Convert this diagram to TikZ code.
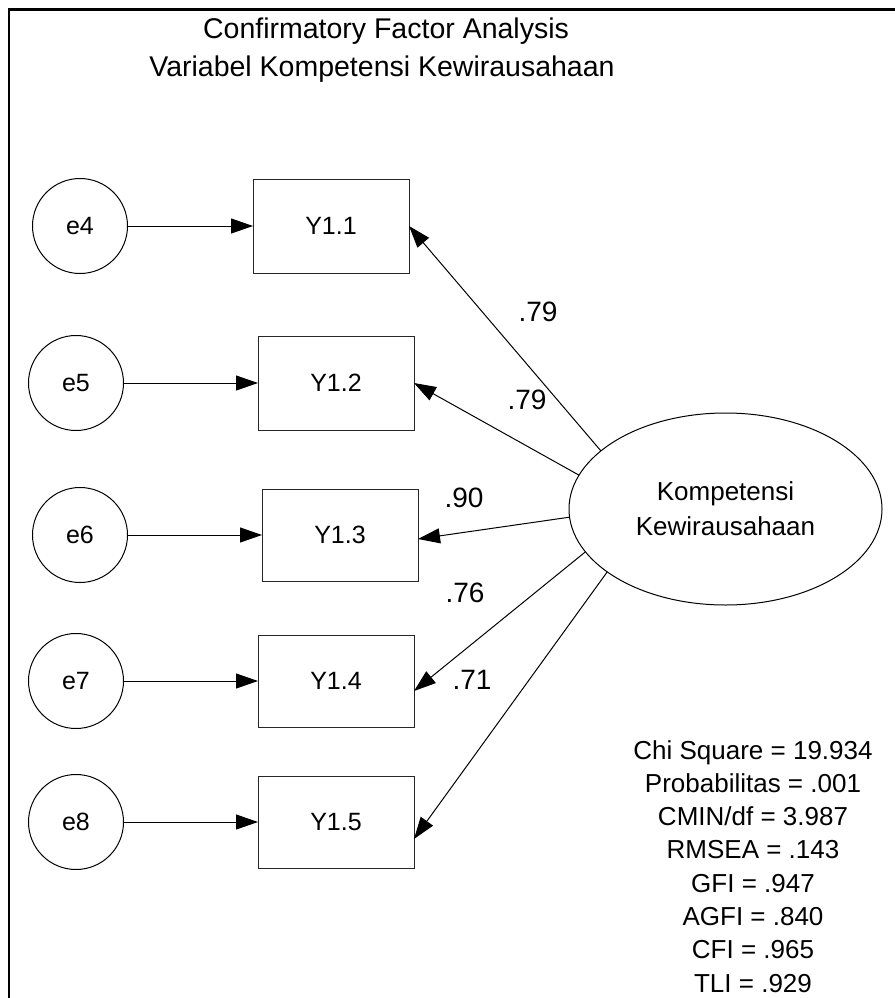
\documentclass[tikz,border=0pt]{standalone}
\usepackage{fontspec}
\setmainfont{Liberation Sans}
\usetikzlibrary{arrows.meta,shapes.geometric}
\begin{document}
\begin{tikzpicture}[x=1pt,y=-1pt,
  every node/.style={inner sep=0pt, outer sep=0pt},
  err/.style={circle, draw, line width=1pt, minimum size=95pt, font=\fontsize{25}{30}\selectfont},
  obs/.style={rectangle, draw=black!85, line width=1pt, minimum width=156pt, minimum height=94pt, font=\fontsize{25}{30}\selectfont},
  lat/.style={ellipse, draw, line width=1pt, minimum width=313pt, minimum height=192pt, align=center, font=\fontsize{26}{35}\selectfont},
  sem/.style={line width=1pt, -{Triangle[length=22pt,width=15pt]}},
  load/.style={font=\fontsize{28}{30}\selectfont},
  stat/.style={anchor=base, font=\fontsize{26}{30}\selectfont},
  ttl/.style={anchor=base, font=\fontsize{28.5}{32}\selectfont},
]
\useasboundingbox (0,0) rectangle (894,998);

% open frame (top and left edges)
\draw[line width=2.5pt, line join=miter] (9,1010) -- (9,9.5) -- (900,9.5);

% title
\node[ttl] (t1) at (386,38) {Confirmatory Factor Analysis};
\node[ttl] (t2) at (382,77) {Variabel Kompetensi Kewirausahaan};

% error terms
\node[err] (e4) at (80,226) {e4};
\node[err] (e5) at (76,383) {e5};
\node[err] (e6) at (80,535) {e6};
\node[err] (e7) at (76,681) {e7};
\node[err] (e8) at (76,822) {e8};

% indicators
\node[obs] (Y11) at (331,226) {Y1.1};
\node[obs] (Y12) at (336,383) {Y1.2};
\node[obs, minimum height=92pt] (Y13) at (340,535) {Y1.3};
\node[obs, minimum height=92pt] (Y14) at (336,681) {Y1.4};
\node[obs, minimum height=92pt] (Y15) at (336,822) {Y1.5};

% latent construct
\node[lat] (K) at (725.5,509) {Kompetensi\\Kewirausahaan};

% error paths
\draw[sem] (e4) -- (Y11);
\draw[sem] (e5) -- (Y12);
\draw[sem] (e6) -- (Y13);
\draw[sem] (e7) -- (Y14);
\draw[sem] (e8) -- (Y15);

% loadings
\draw[sem] (K.155.7) -- (Y11.east);
\draw[sem] (K.167.4) -- (Y12.east);
\draw[sem] (K.183.3) -- ([yshift=-4pt]Y13.east);
\draw[sem] (K.197.4) -- ([yshift=-10pt]Y14.east);
\draw[sem] (K.208.4) -- ([yshift=-17pt]Y15.east);

\node[load] (l1) at (538,312) {.79};
\node[load] (l2) at (527,400) {.79};
\node[load] (l3) at (464,498) {.90};
\node[load] (l4) at (465,593) {.76};
\node[load] (l5) at (472,680) {.71};

% fit indices
\foreach \txt [count=\i from 0] in {Chi Square = 19.934, Probabilitas = .001, CMIN/df = 3.987, RMSEA = .143, GFI = .947, AGFI = .840, CFI = .965, TLI = .929}
  \node[stat] (s\i) at (753,759+33.3*\i) {\txt};
\end{tikzpicture}
\end{document}
